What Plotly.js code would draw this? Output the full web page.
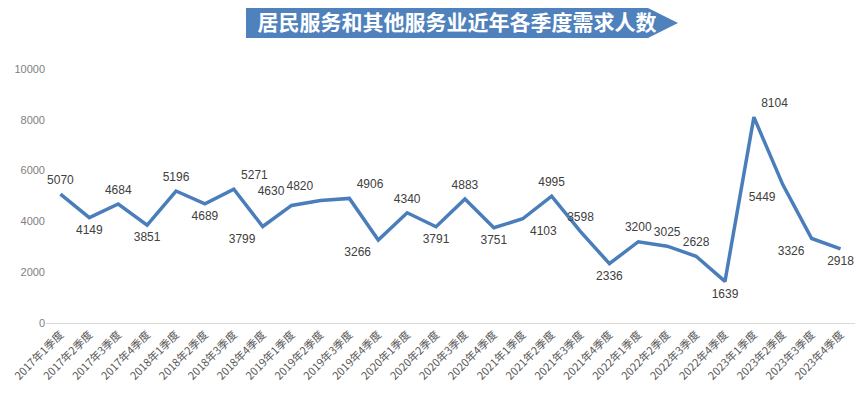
<!DOCTYPE html>
<html>
<head>
<meta charset="utf-8">
<script src="https://cdn.plot.ly/plotly-3.0.1.min.js"></script>
<style>html,body{margin:0;padding:0;background:#fff;}#chart{width:864px;height:394px;}</style>
</head>
<body>
<div id="chart"></div>
<script>
const categories = [
  "2017年1季度","2017年2季度","2017年3季度","2017年4季度",
  "2018年1季度","2018年2季度","2018年3季度","2018年4季度",
  "2019年1季度","2019年2季度","2019年3季度","2019年4季度",
  "2020年1季度","2020年2季度","2020年3季度","2020年4季度",
  "2021年1季度","2021年2季度","2021年3季度","2021年4季度",
  "2022年1季度","2022年2季度","2022年3季度","2022年4季度",
  "2023年1季度","2023年2季度","2023年3季度","2023年4季度"
];
const demand = [
  5070, 4149, 4684, 3851,
  5196, 4689, 5271, 3799,
  4630, 4820, 4906, 3266,
  4340, 3791, 4883, 3751,
  4103, 4995, 3598, 2336,
  3200, 3025, 2628, 1639,
  8104, 5449, 3326, 2918
];
const yTickValues = [0, 2000, 4000, 6000, 8000, 10000];
const chartTitle = "居民服务和其他服务业近年各季度需求人数";

// label placement (style only)
const labelPos = [
  "top center","bottom center","top center","bottom center",
  "top center","bottom center","top right","bottom left",
  "top left","top left","top right","bottom left",
  "top center","bottom center","top center","bottom center",
  "bottom right","top center","top center","bottom center",
  "top center","top center","top center","bottom center",
  "top right","bottom left","bottom left","bottom center"
];

const W = 864, H = 394;
const M = {l: 46, r: 9, t: 69, b: 71};
const px = x => (x - M.l) / (W - M.l - M.r);
const py = y => (H - M.b - y) / (H - M.t - M.b);

const banner = "M " + px(246) + "," + py(8) +
  " L " + px(648) + "," + py(8) +
  " L " + px(678) + "," + py(23) +
  " L " + px(648) + "," + py(38) +
  " L " + px(246) + "," + py(38) + " Z";

const trace = {
  type: "scatter",
  mode: "lines+markers+text",
  x: categories,
  y: demand,
  text: demand.map(String),
  textposition: labelPos,
  textfont: {family: "Liberation Sans, Arial, sans-serif", size: 12, color: "#404040"},
  line: {color: "#4a7ebb", width: 3.5},
  marker: {size: 10, opacity: 0, color: "#4a7ebb"},
  cliponaxis: false,
  hoverinfo: "x+y"
};

const layout = {
  width: W, height: H,
  margin: M,
  paper_bgcolor: "#ffffff",
  plot_bgcolor: "#ffffff",
  showlegend: false,
  title: {
    text: "<b>" + chartTitle + "</b>",
    font: {family: "Noto Sans CJK SC, sans-serif", size: 21, color: "#ffffff"},
    x: 457 / W, xanchor: "center", xref: "container",
    y: 1 - 23 / H, yanchor: "middle", yref: "container"
  },
  xaxis: {
    type: "category",
    range: [-0.5, categories.length - 0.5],
    autorange: false,
    tickangle: -45,
    showgrid: false,
    showline: true,
    linecolor: "#d9d9d9",
    linewidth: 1,
    ticks: "",
    tickfont: {family: "Noto Sans CJK SC, sans-serif", size: 11, color: "#595959"},
    zeroline: false,
    automargin: false,
    fixedrange: true
  },
  yaxis: {
    range: [0, 10000],
    autorange: false,
    tickvals: yTickValues,
    ticktext: yTickValues.map(String),
    showgrid: false,
    zeroline: false,
    showline: false,
    ticks: "",
    tickfont: {family: "Liberation Sans, Arial, sans-serif", size: 11, color: "#7f7f7f"},
    automargin: false,
    fixedrange: true
  },
  shapes: [{
    type: "path",
    xref: "paper", yref: "paper",
    path: banner,
    fillcolor: "#4f81bd",
    line: {width: 0},
    layer: "below"
  }]
};

Plotly.newPlot("chart", [trace], layout, {displayModeBar: false, staticPlot: true});
</script>
</body>
</html>
